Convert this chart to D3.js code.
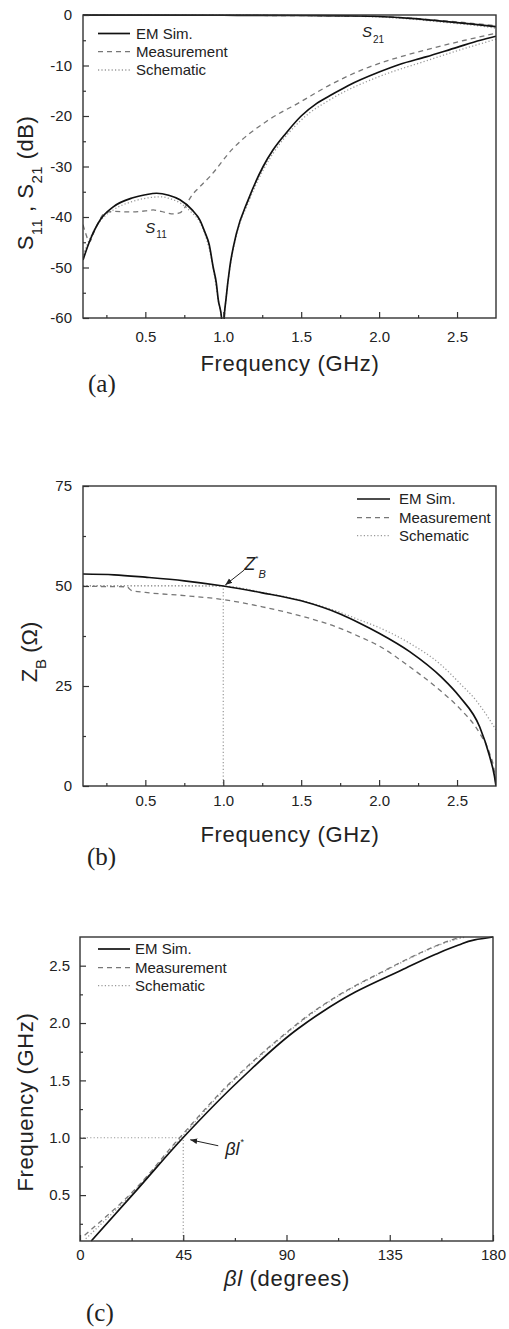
<!DOCTYPE html>
<html><head><meta charset="utf-8">
<script src="https://cdn.jsdelivr.net/npm/d3@7"></script>
<style>
html,body{margin:0;padding:0;background:#fff;}
svg{display:block;}
text{font-family:"Liberation Sans",Arial,Helvetica,sans-serif;fill:#222;}
</style></head><body>
<svg id="chart" width="509" height="1329"></svg>
<script>
// ===================== DATA =====================
const seriesNames = ["EM Sim.", "Measurement", "Schematic"];

// ---- Panel (a): S11 / S21 (dB) vs frequency (GHz)
const freqS11EM = [0.1,0.145,0.21,0.294,0.42,0.5,0.572,0.65,0.722,0.8,0.85,0.882,0.91,0.935,0.955,0.968,0.989,0.997,1.006,1.017,1.042,1.085,1.16,1.256,1.32,1.4,1.5,1.6,1.7,1.8,2.0,2.13,2.3,2.5,2.65,2.75];
const s11EM     = [-48.5,-44.6,-40.6,-38.0,-36.2,-35.6,-35.3,-35.7,-36.6,-38.6,-40.6,-43.0,-45.5,-49.9,-53.0,-56.4,-60.0,-68,-60.0,-56.4,-49.9,-43.2,-36.6,-30.0,-26.7,-23.5,-20.0,-17.5,-15.7,-14.0,-11.3,-9.8,-8.3,-6.4,-5.0,-4.2];
const freqS11Meas = [0.1,0.12,0.14,0.17,0.2,0.24,0.3,0.4,0.5,0.55,0.6,0.68,0.72,0.76,0.786,0.85,0.914,1.06,1.28,1.49,1.7,1.92,2.07,2.34,2.55,2.75];
const s11Meas     = [-41.5,-43.5,-45.0,-43.0,-41.0,-39.2,-38.9,-39.0,-38.8,-38.6,-38.9,-39.4,-39.2,-37.8,-36.3,-34.0,-32.0,-26.5,-21.0,-17.3,-13.6,-10.5,-8.9,-6.6,-5.0,-3.6];
const freqS11Sch = [0.1,0.145,0.21,0.294,0.42,0.5,0.6,0.65,0.722,0.8,0.85,0.882,0.935,0.968,0.989,0.997,1.006,1.017,1.042,1.085,1.16,1.256,1.32,1.5,1.7,2.0,2.3,2.5,2.65,2.75];
const s11Sch     = [-47.5,-44.2,-40.8,-38.6,-36.9,-36.3,-36.0,-36.3,-37.2,-39.2,-41.0,-43.3,-50.0,-56.5,-60.5,-68,-60.5,-56.6,-50.2,-43.6,-37.2,-30.7,-27.4,-20.8,-16.5,-12.2,-9.1,-7.1,-5.7,-4.8];
const freqS21 = [0.1,0.5,1.0,1.5,1.8,2.0,2.2,2.4,2.6,2.75];
const s21EM   = [-0.02,-0.03,-0.05,-0.1,-0.18,-0.3,-0.65,-1.2,-1.8,-2.3];
const s21Meas = [-0.05,-0.06,-0.08,-0.12,-0.2,-0.3,-0.6,-1.1,-1.65,-2.1];
const s21Sch  = [0.0,-0.01,-0.03,-0.1,-0.22,-0.4,-0.8,-1.4,-2.0,-2.6];
const freqTicks = [0.5,1.0,1.5,2.0,2.5];
const freqMinor = [0.25,0.75,1.25,1.75,2.25];
const dbTicks = [0,-10,-20,-30,-40,-50,-60];
const dbMinor = [-5,-15,-25,-35,-45,-55];

// ---- Panel (b): Z_B (Ohm) vs frequency (GHz)
const freqZEM = [0.1,0.3,0.5,0.75,1.0,1.25,1.5,1.75,1.876,2.0,2.196,2.4,2.517,2.645,2.71,2.74,2.75];
const zEM     = [53.0,52.8,52.2,51.3,50.0,48.3,46.3,43.0,40.7,38.2,33.6,27.2,22.3,14.8,7.3,2.5,0];
const freqZMeas = [0.1,0.38,0.41,0.5,0.75,1.0,1.25,1.5,1.75,1.876,2.0,2.196,2.4,2.517,2.645,2.71,2.74,2.75];
const zMeas     = [49.9,49.8,48.9,48.4,47.6,46.6,44.8,42.5,39.4,37.3,35.0,29.8,23.6,19.4,13.2,8.0,3.5,0];
const freqZSch = [0.1,0.5,1.0,1.25,1.5,1.75,1.876,2.0,2.196,2.4,2.517,2.62,2.71,2.75];
const zSch     = [50.1,50.1,50.0,48.4,46.4,43.4,41.5,39.6,35.7,30.2,25.7,21.5,16.5,14.0];
const zTicks = [0,25,50,75];
const zMinor = [12.5,37.5,62.5];
const zStar = {f: 1.0, z: 50};

// ---- Panel (c): frequency (GHz) vs beta*l (degrees)
const freqCEM = [0.1,0.55,1.0,1.51,1.95,2.09,2.27,2.46,2.6,2.68,2.725,2.75];
const betaEM  = [4.9,25,44.9,70,95,105,120,140,155,165,172,180];
const freqCMeas = [0.15,0.5,1.0,1.51,1.95,2.09,2.27,2.46,2.6,2.68,2.725,2.75];
const betaMeas  = [2,21.5,43.4,67,92,101,115,133,147,156,162,166];
const freqCSch = [0.12,0.5,1.0,1.51,1.95,2.09,2.27,2.46,2.6,2.68,2.725,2.75];
const betaSch  = [2.5,22,44,67.5,92.5,101.5,115.5,133.5,147.5,156.5,163,168];
const degTicks = [0,45,90,135,180];
const degMinor = [22.5,67.5,112.5,157.5];
const fcTicks = [0.5,1.0,1.5,2.0,2.5];
const fcMinor = [0.25,0.75,1.25,1.75,2.25];
const betaStar = {deg: 45, f: 1.0};

// ===================== DRAWING =====================
const svg = d3.select("#chart");
const SERIF = '"Liberation Serif","Times New Roman",serif';
const styles = [
  {stroke:"#111", width:1.7, dash:null},
  {stroke:"#777", width:1.3, dash:"5,4"},
  {stroke:"#999", width:1.3, dash:"1.2,2.2"}
];

const defs = svg.append("defs");
defs.append("marker").attr("id","arr").attr("viewBox","0 0 10 10")
  .attr("refX",10).attr("refY",5).attr("markerWidth",7).attr("markerHeight",7)
  .attr("orient","auto").attr("markerUnits","userSpaceOnUse")
  .append("path").attr("d","M0,1 L10,5 L0,9 Z").attr("fill","#222");

function clip(id, x, y) {
  const [x0,x1] = x.range(), [y0,y1] = y.range();
  defs.append("clipPath").attr("id",id).append("rect")
    .attr("x",Math.min(x0,x1)).attr("y",Math.min(y0,y1)-1)
    .attr("width",Math.abs(x1-x0)).attr("height",Math.abs(y1-y0)+2);
}

function axes(g, x, y, o) {
  const left = x.range()[0];
  const bottom = y.range()[0];
  const styleAxis = sel => {
    sel.select(".domain").remove();
    sel.selectAll(".tick line").attr("stroke","#333").attr("stroke-width",1.2);
    sel.selectAll(".tick text").attr("font-size",15).attr("fill","#222")
      .attr("font-family",'"Liberation Sans",Arial,sans-serif');
  };
  g.append("g").attr("transform",`translate(0,${bottom})`)
    .call(d3.axisBottom(x).tickValues(o.xMajor).tickSize(-6).tickPadding(o.xPad).tickFormat(o.xFmt))
    .call(styleAxis);
  g.append("g").attr("transform",`translate(0,${bottom})`)
    .call(d3.axisBottom(x).tickValues(o.xMinor).tickSize(-3).tickFormat(""))
    .call(styleAxis);
  g.append("g").attr("transform",`translate(${left},0)`)
    .call(d3.axisLeft(y).tickValues(o.yMajor).tickSize(-6).tickPadding(o.yPad).tickFormat(o.yFmt))
    .call(styleAxis);
  g.append("g").attr("transform",`translate(${left},0)`)
    .call(d3.axisLeft(y).tickValues(o.yMinor).tickSize(-3).tickFormat(""))
    .call(styleAxis);
  const [x0,x1] = x.range(), [y0,y1] = y.range();
  g.append("rect").attr("x",x0).attr("y",y1).attr("width",x1-x0).attr("height",y0-y1)
    .attr("fill","none").attr("stroke","#333").attr("stroke-width",1.4);
}

function series(g, xs, ys, x, y, st, clipId, curve, swap) {
  const pts = d3.zip(xs, ys);
  const line = d3.line().curve(curve);
  if (swap) line.x(d => x(d[1])).y(d => y(d[0]));
  else line.x(d => x(d[0])).y(d => y(d[1]));
  g.append("path").datum(pts).attr("d", line)
    .attr("fill","none").attr("stroke",st.stroke).attr("stroke-width",st.width)
    .attr("stroke-dasharray",st.dash).attr("stroke-linejoin","round")
    .attr("clip-path",`url(#${clipId})`);
}

function legend(g, x0, x1, xt, baselines) {
  seriesNames.forEach((name,i) => {
    const st = styles[i], yb = baselines[i];
    g.append("line").attr("x1",x0).attr("x2",x1).attr("y1",yb-5).attr("y2",yb-5)
      .attr("stroke",st.stroke).attr("stroke-width",st.width).attr("stroke-dasharray",st.dash);
    g.append("text").attr("x",xt).attr("y",yb).attr("font-size",15).text(name);
  });
}

function panelLabel(txt, x, y) {
  svg.append("text").attr("x",x).attr("y",y).attr("font-size",25)
    .style("font-family",SERIF).text(txt);
}

function xTitle(g, cx, y) {
  return g.append("text").attr("x",cx).attr("y",y).attr("text-anchor","middle")
    .attr("font-size",22).attr("letter-spacing",0.7);
}

// ---------- Panel (a) ----------
{
  const g = svg.append("g");
  const x = d3.scaleLinear().domain([0.1,2.75]).range([83,496]);
  const y = d3.scaleLinear().domain([-60,0]).range([318,15]);
  clip("clipA", x, y);
  series(g, freqS21, s21Sch, x, y, styles[2], "clipA", d3.curveMonotoneX);
  series(g, freqS21, s21Meas, x, y, styles[1], "clipA", d3.curveMonotoneX);
  series(g, freqS21, s21EM, x, y, styles[0], "clipA", d3.curveMonotoneX);
  series(g, freqS11Sch, s11Sch, x, y, styles[2], "clipA", d3.curveMonotoneX);
  series(g, freqS11Meas, s11Meas, x, y, styles[1], "clipA", d3.curveMonotoneX);
  series(g, freqS11EM, s11EM, x, y, styles[0], "clipA", d3.curveMonotoneX);
  axes(g, x, y, {xMajor:freqTicks, xMinor:freqMinor, xPad:13, xFmt:d3.format(".1f"),
                 yMajor:dbTicks, yMinor:dbMinor, yPad:11, yFmt:d=>String(d)});
  legend(g, 98, 130, 136, [38.5, 56.7, 75]);
  const t21 = g.append("text").attr("x", x(1.89)).attr("y", 37).attr("font-size",15).attr("font-style","italic");
  t21.append("tspan").text("S");
  t21.append("tspan").attr("font-size",10).attr("font-style","normal").attr("dy",6).attr("dx",1).text("21");
  const t11 = g.append("text").attr("x", x(0.5)).attr("y", 233).attr("font-size",15).attr("font-style","italic");
  t11.append("tspan").text("S");
  t11.append("tspan").attr("font-size",10).attr("font-style","normal").attr("dy",5).attr("dx",1).text("11");
  xTitle(g, 290, 371).text("Frequency (GHz)");
  const yt = g.append("text").attr("transform","translate(33,183) rotate(-90)")
    .attr("text-anchor","middle").attr("font-size",22).attr("letter-spacing",0.5);
  yt.append("tspan").text("S");
  yt.append("tspan").attr("font-size",15).attr("dy",9).text("11");
  yt.append("tspan").attr("dy",-9).text(" , S");
  yt.append("tspan").attr("font-size",15).attr("dy",9).text("21");
  yt.append("tspan").attr("dy",-9).text(" (dB)");
  panelLabel("(a)", 88, 392);
}

// ---------- Panel (b) ----------
{
  const g = svg.append("g");
  const x = d3.scaleLinear().domain([0.1,2.75]).range([83,496]);
  const y = d3.scaleLinear().domain([0,75]).range([786,486]);
  clip("clipB", x, y);
  g.append("path").attr("d", `M${x(0.1)},${y(zStar.z)} L${x(zStar.f)},${y(zStar.z)} L${x(zStar.f)},${y(0)}`)
    .attr("fill","none").attr("stroke","#999").attr("stroke-width",1.2).attr("stroke-dasharray","1.2,2.2");
  series(g, freqZSch, zSch, x, y, styles[2], "clipB", d3.curveMonotoneX);
  series(g, freqZMeas, zMeas, x, y, styles[1], "clipB", d3.curveMonotoneX);
  series(g, freqZEM, zEM, x, y, styles[0], "clipB", d3.curveMonotoneX);
  axes(g, x, y, {xMajor:freqTicks, xMinor:freqMinor, xPad:9.5, xFmt:d3.format(".1f"),
                 yMajor:zTicks, yMinor:zMinor, yPad:11, yFmt:d=>String(d)});
  legend(g, 357, 390, 399, [504, 522.7, 540.7]);
  const px = x(zStar.f), py = y(zStar.z);
  g.append("line").attr("x1",px+21).attr("y1",py-16).attr("x2",px+2).attr("y2",py-1)
    .attr("stroke","#222").attr("stroke-width",1).attr("marker-end","url(#arr)");
  const zt = g.append("text").attr("x",px+21).attr("y",py-16).attr("font-size",18).attr("font-style","italic");
  zt.append("tspan").text("Z");
  zt.append("tspan").attr("font-size",8).attr("font-style","normal").attr("dy",-9).text("*");
  zt.append("tspan").attr("font-size",11).attr("dy",17).text("B");
  xTitle(g, 290, 842).text("Frequency (GHz)");
  const yt = g.append("text").attr("transform","translate(37,652) rotate(-90)")
    .attr("text-anchor","middle").attr("font-size",22);
  yt.append("tspan").text("Z");
  yt.append("tspan").attr("font-size",15).attr("dy",9).text("B");
  yt.append("tspan").attr("dy",-9).text(" (\u03A9)");
  panelLabel("(b)", 87, 865);
}

// ---------- Panel (c) ----------
{
  const g = svg.append("g");
  const x = d3.scaleLinear().domain([0,180]).range([80,493]);
  const y = d3.scaleLinear().domain([0.1,2.75]).range([1241,937]);
  clip("clipC", x, y);
  g.append("path").attr("d", `M${x(0)},${y(betaStar.f)} L${x(betaStar.deg)},${y(betaStar.f)} L${x(betaStar.deg)},${y(0.1)}`)
    .attr("fill","none").attr("stroke","#999").attr("stroke-width",1.2).attr("stroke-dasharray","1.2,2.2");
  series(g, freqCSch, betaSch, x, y, styles[2], "clipC", d3.curveMonotoneY, true);
  series(g, freqCMeas, betaMeas, x, y, styles[1], "clipC", d3.curveMonotoneY, true);
  series(g, freqCEM, betaEM, x, y, styles[0], "clipC", d3.curveMonotoneY, true);
  axes(g, x, y, {xMajor:degTicks, xMinor:degMinor, xPad:8.5, xFmt:d=>String(d),
                 yMajor:fcTicks, yMinor:fcMinor, yPad:10, yFmt:d3.format(".1f")});
  legend(g, 98, 130, 135, [954, 972.7, 990.7]);
  const px = x(betaStar.deg), py = y(betaStar.f);
  g.append("line").attr("x1",px+35).attr("y1",py+8).attr("x2",px+7).attr("y2",py+2)
    .attr("stroke","#222").attr("stroke-width",1).attr("marker-end","url(#arr)");
  const bt = g.append("text").attr("x",px+42).attr("y",py+17).attr("font-size",18).attr("font-style","italic");
  bt.append("tspan").text("\u03B2l");
  bt.append("tspan").attr("font-size",9).attr("font-style","normal").attr("dy",-10).attr("dx",1).text("*");
  const xt = xTitle(g, 287, 1286);
  xt.append("tspan").attr("font-style","italic").text("\u03B2l");
  xt.append("tspan").text(" (degrees)");
  g.append("text").attr("transform","translate(33,1102) rotate(-90)")
    .attr("text-anchor","middle").attr("font-size",22).attr("letter-spacing",0.7).text("Frequency (GHz)");
  panelLabel("(c)", 86, 1321);
}
</script>
</body></html>
